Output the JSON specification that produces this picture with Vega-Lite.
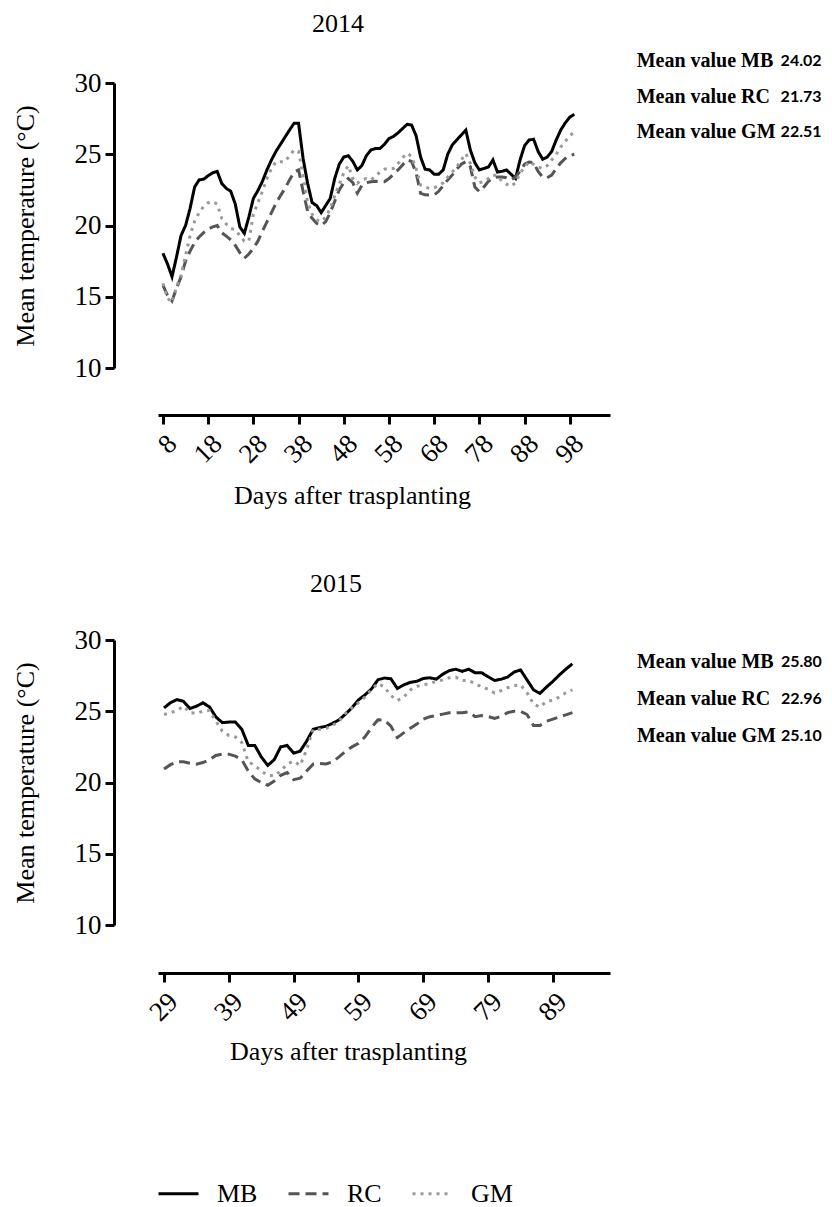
{
"$schema": "https://vega.github.io/schema/vega-lite/v6.json",
"padding": {"left": 12, "top": 10, "right": 0, "bottom": 0},
"background": "white",
"spacing": 62,
"datasets": {
"d2014": [
{"day":8,"MB":18.05,"RC":15.8,"GM":15.94},{"day":9,"MB":17.3,"RC":15.1,"GM":14.9},{"day":10,"MB":16.4,"RC":14.7,"GM":14.6},{"day":11,"MB":17.8,"RC":15.6,"GM":15.7},{"day":12,"MB":19.3,"RC":16.4,"GM":16.5},{"day":13,"MB":20.0,"RC":17.5,"GM":17.9},{"day":14,"MB":21.2,"RC":18.2,"GM":19.3},{"day":15,"MB":22.7,"RC":18.8,"GM":20.3},{"day":16,"MB":23.2,"RC":19.2,"GM":20.9},{"day":17,"MB":23.25,"RC":19.5,"GM":21.35},{"day":18,"MB":23.5,"RC":19.75,"GM":21.6},{"day":19,"MB":23.7,"RC":19.9,"GM":21.67},{"day":20,"MB":23.8,"RC":20.0,"GM":21.5},{"day":21,"MB":22.95,"RC":19.5,"GM":20.5},{"day":22,"MB":22.6,"RC":19.25,"GM":20.1},{"day":23,"MB":22.4,"RC":19.0,"GM":19.8},{"day":24,"MB":21.5,"RC":18.6,"GM":19.7},{"day":25,"MB":19.9,"RC":18.1,"GM":19.3},{"day":26,"MB":19.45,"RC":17.7,"GM":18.9},{"day":27,"MB":20.6,"RC":18.0,"GM":18.9},{"day":28,"MB":21.9,"RC":18.4,"GM":20.8},{"day":29,"MB":22.45,"RC":18.9,"GM":21.6},{"day":30,"MB":23.1,"RC":19.6,"GM":22.4},{"day":31,"MB":23.9,"RC":20.25,"GM":23.3},{"day":32,"MB":24.6,"RC":20.9,"GM":24.0},{"day":33,"MB":25.2,"RC":21.55,"GM":24.48},{"day":34,"MB":25.7,"RC":22.1,"GM":24.48},{"day":35,"MB":26.2,"RC":22.6,"GM":24.48},{"day":36,"MB":26.7,"RC":23.2,"GM":24.9},{"day":37,"MB":27.17,"RC":23.75,"GM":25.3},{"day":38,"MB":27.17,"RC":23.9,"GM":25.2},{"day":39,"MB":24.7,"RC":22.4,"GM":23.5},{"day":40,"MB":22.96,"RC":21.0,"GM":21.6},{"day":41,"MB":21.6,"RC":20.5,"GM":20.8},{"day":42,"MB":21.4,"RC":20.15,"GM":20.4},{"day":43,"MB":20.9,"RC":20.0,"GM":20.27},{"day":44,"MB":21.4,"RC":20.27,"GM":20.6},{"day":45,"MB":21.9,"RC":20.9,"GM":21.2},{"day":46,"MB":23.3,"RC":21.7,"GM":22.1},{"day":47,"MB":24.3,"RC":22.5,"GM":22.9},{"day":48,"MB":24.8,"RC":23.0,"GM":23.7},{"day":49,"MB":24.9,"RC":23.3,"GM":24.2},{"day":50,"MB":24.5,"RC":23.0,"GM":23.3},{"day":51,"MB":23.9,"RC":22.26,"GM":22.96},{"day":52,"MB":24.2,"RC":22.8,"GM":23.2},{"day":53,"MB":24.9,"RC":23.0,"GM":23.3},{"day":54,"MB":25.3,"RC":23.07,"GM":23.2},{"day":55,"MB":25.4,"RC":23.1,"GM":23.45},{"day":56,"MB":25.4,"RC":23.07,"GM":23.75},{"day":57,"MB":25.7,"RC":23.07,"GM":23.95},{"day":58,"MB":26.1,"RC":23.3,"GM":24.0},{"day":59,"MB":26.25,"RC":23.6,"GM":24.0},{"day":60,"MB":26.5,"RC":23.9,"GM":24.35},{"day":61,"MB":26.8,"RC":24.25,"GM":24.75},{"day":62,"MB":27.1,"RC":24.6,"GM":25.07},{"day":63,"MB":27.05,"RC":24.5,"GM":24.85},{"day":64,"MB":26.3,"RC":23.7,"GM":24.0},{"day":65,"MB":24.8,"RC":22.26,"GM":22.84},{"day":66,"MB":23.95,"RC":22.15,"GM":22.7},{"day":67,"MB":23.9,"RC":22.14,"GM":22.6},{"day":68,"MB":23.6,"RC":22.14,"GM":22.65},{"day":69,"MB":23.6,"RC":22.4,"GM":22.8},{"day":70,"MB":23.9,"RC":22.8,"GM":23.0},{"day":71,"MB":25.0,"RC":23.2,"GM":23.4},{"day":72,"MB":25.65,"RC":23.54,"GM":23.75},{"day":73,"MB":26.0,"RC":23.95,"GM":24.1},{"day":74,"MB":26.35,"RC":24.3,"GM":24.6},{"day":75,"MB":26.7,"RC":24.48,"GM":25.05},{"day":76,"MB":25.3,"RC":24.13,"GM":24.36},{"day":77,"MB":24.4,"RC":22.7,"GM":23.4},{"day":78,"MB":23.9,"RC":22.37,"GM":23.0},{"day":79,"MB":24.0,"RC":22.7,"GM":23.1},{"day":80,"MB":24.1,"RC":23.1,"GM":23.3},{"day":81,"MB":24.6,"RC":23.35,"GM":23.55},{"day":82,"MB":23.75,"RC":23.4,"GM":23.5},{"day":83,"MB":23.8,"RC":23.4,"GM":23.1},{"day":84,"MB":23.9,"RC":23.35,"GM":22.9},{"day":85,"MB":23.6,"RC":23.2,"GM":22.75},{"day":86,"MB":23.3,"RC":23.4,"GM":23.0},{"day":87,"MB":24.6,"RC":23.8,"GM":23.66},{"day":88,"MB":25.6,"RC":24.3,"GM":24.1},{"day":89,"MB":26.0,"RC":24.45,"GM":24.48},{"day":90,"MB":26.05,"RC":24.4,"GM":24.3},{"day":91,"MB":25.2,"RC":23.8,"GM":24.1},{"day":92,"MB":24.65,"RC":23.4,"GM":24.0},{"day":93,"MB":24.8,"RC":23.35,"GM":24.2},{"day":94,"MB":25.2,"RC":23.54,"GM":24.6},{"day":95,"MB":26.0,"RC":24.0,"GM":25.0},{"day":96,"MB":26.7,"RC":24.4,"GM":25.5},{"day":97,"MB":27.2,"RC":24.7,"GM":25.9},{"day":98,"MB":27.6,"RC":24.9,"GM":26.3},{"day":99,"MB":27.8,"RC":25.0,"GM":26.55}
],
"d2015": [
{"day":29,"MB":25.24,"RC":20.94,"GM":24.77},{"day":30,"MB":25.6,"RC":21.25,"GM":24.9},{"day":31,"MB":25.82,"RC":21.45,"GM":25.05},{"day":32,"MB":25.7,"RC":21.45,"GM":25.35},{"day":33,"MB":25.19,"RC":21.35,"GM":24.9},{"day":34,"MB":25.35,"RC":21.29,"GM":24.85},{"day":35,"MB":25.59,"RC":21.4,"GM":25.0},{"day":36,"MB":25.31,"RC":21.6,"GM":25.05},{"day":37,"MB":24.6,"RC":21.9,"GM":24.3},{"day":38,"MB":24.2,"RC":21.99,"GM":23.6},{"day":39,"MB":24.24,"RC":21.99,"GM":23.3},{"day":40,"MB":24.24,"RC":21.85,"GM":23.2},{"day":41,"MB":23.73,"RC":21.6,"GM":22.8},{"day":42,"MB":22.6,"RC":20.8,"GM":21.45},{"day":43,"MB":22.6,"RC":20.25,"GM":21.2},{"day":44,"MB":21.8,"RC":20.0,"GM":20.8},{"day":45,"MB":21.2,"RC":19.8,"GM":20.5},{"day":46,"MB":21.6,"RC":20.1,"GM":20.47},{"day":47,"MB":22.5,"RC":20.5,"GM":20.8},{"day":48,"MB":22.6,"RC":20.7,"GM":21.3},{"day":49,"MB":22.06,"RC":20.2,"GM":21.5},{"day":50,"MB":22.2,"RC":20.3,"GM":21.2},{"day":51,"MB":22.9,"RC":20.8,"GM":22.3},{"day":52,"MB":23.73,"RC":21.29,"GM":23.73},{"day":53,"MB":23.85,"RC":21.34,"GM":23.73},{"day":54,"MB":23.95,"RC":21.3,"GM":23.8},{"day":55,"MB":24.15,"RC":21.45,"GM":24.0},{"day":56,"MB":24.4,"RC":21.8,"GM":24.3},{"day":57,"MB":24.8,"RC":22.2,"GM":24.85},{"day":58,"MB":25.25,"RC":22.5,"GM":25.25},{"day":59,"MB":25.8,"RC":22.75,"GM":25.6},{"day":60,"MB":26.15,"RC":23.2,"GM":26.0},{"day":61,"MB":26.56,"RC":23.85,"GM":26.52},{"day":62,"MB":27.21,"RC":24.4,"GM":26.95},{"day":63,"MB":27.33,"RC":24.38,"GM":26.7},{"day":64,"MB":27.28,"RC":23.95,"GM":26.1},{"day":65,"MB":26.6,"RC":23.15,"GM":25.75},{"day":66,"MB":26.85,"RC":23.5,"GM":26.0},{"day":67,"MB":27.03,"RC":23.8,"GM":26.5},{"day":68,"MB":27.1,"RC":24.1,"GM":26.75},{"day":69,"MB":27.3,"RC":24.45,"GM":26.85},{"day":70,"MB":27.35,"RC":24.62,"GM":26.95},{"day":71,"MB":27.25,"RC":24.7,"GM":27.1},{"day":72,"MB":27.6,"RC":24.8,"GM":27.2},{"day":73,"MB":27.85,"RC":24.9,"GM":27.35},{"day":74,"MB":27.95,"RC":24.9,"GM":27.4},{"day":75,"MB":27.8,"RC":24.9,"GM":27.16},{"day":76,"MB":27.95,"RC":24.95,"GM":27.16},{"day":77,"MB":27.7,"RC":24.62,"GM":26.95},{"day":78,"MB":27.7,"RC":24.7,"GM":26.7},{"day":79,"MB":27.42,"RC":24.63,"GM":26.55},{"day":80,"MB":27.16,"RC":24.5,"GM":26.28},{"day":81,"MB":27.25,"RC":24.65,"GM":26.45},{"day":82,"MB":27.4,"RC":24.9,"GM":26.65},{"day":83,"MB":27.75,"RC":25.0,"GM":26.8},{"day":84,"MB":27.9,"RC":25.0,"GM":26.85},{"day":85,"MB":27.2,"RC":24.77,"GM":26.3},{"day":86,"MB":26.5,"RC":24.0,"GM":25.5},{"day":87,"MB":26.25,"RC":24.0,"GM":25.3},{"day":88,"MB":26.7,"RC":24.3,"GM":25.7},{"day":89,"MB":27.1,"RC":24.45,"GM":25.77},{"day":90,"MB":27.55,"RC":24.6,"GM":26.0},{"day":91,"MB":27.96,"RC":24.75,"GM":26.3},{"day":92,"MB":28.33,"RC":24.9,"GM":26.5}
]
},
"vconcat": [
{
"width": 452, "height": 285,
"title": {"text": "2014", "frame": "group", "dx": -46, "offset": 14},
"layer": [
{"data": {"name": "d2014"},
 "transform": [{"fold": ["MB", "RC", "GM"], "as": ["series", "temp"]}],
 "mark": {"type": "line", "strokeWidth": 3, "clip": false},
 "encoding": {
  "x": {"field": "day", "type": "quantitative", "scale": {"domain": [6.9, 106.9], "nice": false, "zero": false},
        "axis": {"values": [8, 18, 28, 38, 48, 58, 68, 78, 88, 98], "labelAngle": -45, "offset": 47, "labelPadding": 6, "title": "Days after trasplanting", "titleX": 194, "titlePadding": 15}},
  "y": {"field": "temp", "type": "quantitative", "scale": {"domain": [10, 30], "nice": false, "zero": false},
        "axis": {"values": [10, 15, 20, 25, 30], "offset": 44, "labelPadding": 4, "title": "Mean temperature (°C)", "titlePadding": 36}},
  "color": {"field": "series", "type": "nominal", "scale": {"domain": ["MB", "RC", "GM"], "range": ["#000000", "#555555", "#999999"]},
            "legend": {"title": null, "orient": "none", "legendX": -1, "legendY": 1089, "direction": "horizontal"}},
  "strokeDash": {"field": "series", "type": "nominal", "scale": {"domain": ["MB", "RC", "GM"], "range": [[1, 0], [11, 6], [3, 5]]},
            "legend": {"title": null, "orient": "none", "legendX": -1, "legendY": 1089, "direction": "horizontal"}}
 }},
{"data": {"values": [{"day": 112.8, "temp": 31.56, "lab": "Mean value MB"}, {"day": 112.8, "temp": 29.04, "lab": "Mean value RC"}, {"day": 112.8, "temp": 26.58, "lab": "Mean value GM"}]},
 "mark": {"type": "text", "align": "left", "baseline": "middle", "font": "Liberation Serif", "fontWeight": "bold", "fontSize": 20, "color": "#000"},
 "encoding": {"x": {"field": "day", "type": "quantitative"}, "y": {"field": "temp", "type": "quantitative"}, "text": {"field": "lab"}}},
{"data": {"values": [{"day": 153.7, "temp": 31.56, "num": "24.02"}, {"day": 153.7, "temp": 29.04, "num": "21.73"}, {"day": 153.7, "temp": 26.58, "num": "22.51"}]},
 "mark": {"type": "text", "align": "right", "baseline": "middle", "font": "Lato", "fontWeight": "bold", "fontSize": 16, "color": "#000"},
 "encoding": {"x": {"field": "day", "type": "quantitative"}, "y": {"field": "temp", "type": "quantitative"}, "text": {"field": "num"}}}
]
},
{
"width": 452, "height": 285,
"title": {"text": "2015", "frame": "group", "dx": -48, "offset": 29},
"layer": [
{"data": {"name": "d2015"},
 "transform": [{"fold": ["MB", "RC", "GM"], "as": ["series", "temp"]}],
 "mark": {"type": "line", "strokeWidth": 3, "clip": false},
 "encoding": {
  "x": {"field": "day", "type": "quantitative", "scale": {"domain": [28.07, 97.8], "nice": false, "zero": false},
        "axis": {"values": [29, 39, 49, 59, 69, 79, 89], "labelAngle": -45, "offset": 48, "labelPadding": 6, "title": "Days after trasplanting", "titleX": 190, "titlePadding": 13}},
  "y": {"field": "temp", "type": "quantitative", "scale": {"domain": [10, 30], "nice": false, "zero": false},
        "axis": {"values": [10, 15, 20, 25, 30], "offset": 44, "labelPadding": 4, "title": "Mean temperature (°C)", "titlePadding": 36}},
  "color": {"field": "series", "type": "nominal", "scale": {"domain": ["MB", "RC", "GM"], "range": ["#000000", "#555555", "#999999"]},
            "legend": {"title": null, "orient": "none", "legendX": -1, "legendY": 1089, "direction": "horizontal"}},
  "strokeDash": {"field": "series", "type": "nominal", "scale": {"domain": ["MB", "RC", "GM"], "range": [[1, 0], [11, 6], [3, 5]]},
            "legend": {"title": null, "orient": "none", "legendX": -1, "legendY": 1089, "direction": "horizontal"}}
 }},
{"data": {"values": [{"day": 101.96, "temp": 28.46, "lab": "Mean value MB"}, {"day": 101.96, "temp": 25.86, "lab": "Mean value RC"}, {"day": 101.96, "temp": 23.26, "lab": "Mean value GM"}]},
 "mark": {"type": "text", "align": "left", "baseline": "middle", "font": "Liberation Serif", "fontWeight": "bold", "fontSize": 20, "color": "#000"},
 "encoding": {"x": {"field": "day", "type": "quantitative"}, "y": {"field": "temp", "type": "quantitative"}, "text": {"field": "lab"}}},
{"data": {"values": [{"day": 130.49, "temp": 28.46, "num": "25.80"}, {"day": 130.49, "temp": 25.86, "num": "22.96"}, {"day": 130.49, "temp": 23.26, "num": "25.10"}]},
 "mark": {"type": "text", "align": "right", "baseline": "middle", "font": "Lato", "fontWeight": "bold", "fontSize": 16, "color": "#000"},
 "encoding": {"x": {"field": "day", "type": "quantitative"}, "y": {"field": "temp", "type": "quantitative"}, "text": {"field": "num"}}}
]
}
],
"config": {
 "view": {"stroke": null},
 "font": "Liberation Serif",
 "title": {"font": "Liberation Serif", "fontSize": 26, "fontWeight": "normal", "color": "#000"},
 "axis": {"grid": false, "domainColor": "#000", "domainWidth": 3, "tickColor": "#000", "tickWidth": 3, "tickSize": 9,
          "labelFont": "Liberation Serif", "labelFontSize": 27, "labelColor": "#000",
          "titleFont": "Liberation Serif", "titleFontSize": 26, "titleFontWeight": "normal", "titleColor": "#000"},
 "legend": {"symbolType": "stroke", "symbolSize": 1600, "symbolStrokeWidth": 3, "labelFont": "Liberation Serif", "labelFontSize": 26, "labelColor": "#000", "labelOffset": 17, "columnPadding": 24, "padding": 0}
}
}
